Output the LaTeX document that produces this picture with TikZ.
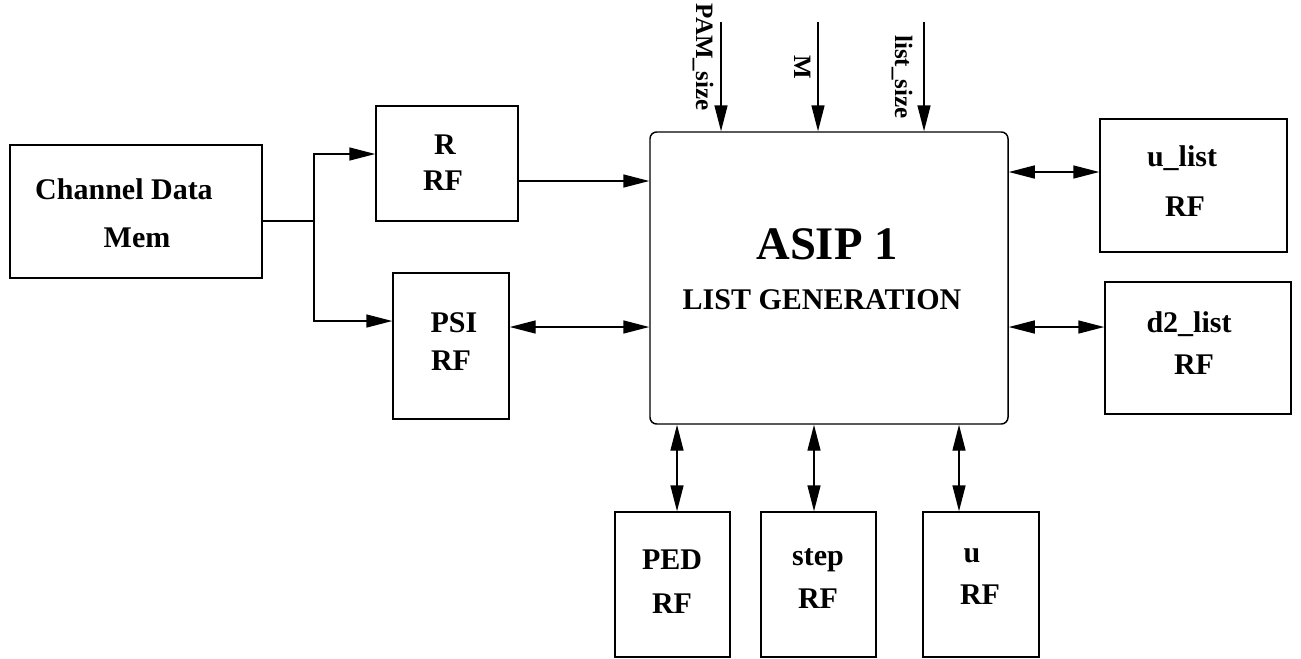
\documentclass[tikz,border=0pt]{standalone}
\usepackage{fontspec}
\setmainfont{Liberation Serif}
\usetikzlibrary{arrows.meta,fit}
\begin{document}
\begin{tikzpicture}[x=0.75pt,y=-0.75pt,
  line width=1.1pt,
  box/.style={draw,inner sep=0pt,line width=1.1pt},
  lbl/.style={anchor=base,inner sep=0pt,font=\fontsize{22.5}{27}\selectfont\bfseries},
  toplbl/.style={anchor=base,inner sep=0pt,rotate=-90,font=\fontsize{18.75}{22}\selectfont\bfseries},
  arr/.style={-{Triangle[length=19.5pt,width=9.75pt]}},
  barr/.style={{Triangle[length=19.5pt,width=9.75pt]}-{Triangle[length=19.5pt,width=9.75pt]}}]
\useasboundingbox (0,0) rectangle (1301,658);
% boxes
\node[box,fit={(10,145)(262,278)}] (cdm) {};
\node[box,fit={(376,106)(518,221)}] (rrf) {};
\node[box,fit={(393,273)(509,419)}] (psi) {};
\node[box,rounded corners=5pt,fit={(650,132)(1008,424)}] (asip) {};
\node[box,fit={(1100,119)(1287,252)}] (ulist) {};
\node[box,fit={(1105,282)(1291,414)}] (d2list) {};
\node[box,fit={(615,512)(730,657)}] (ped) {};
\node[box,fit={(761,512)(876,657)}] (steprf) {};
\node[box,fit={(923,512)(1039,657)}] (urf) {};
% texts
\node[lbl] (t1) at (124,199) {Channel Data};
\node[lbl] (t2) at (137,247) {Mem};
\node[lbl] (t3) at (445,154) {R};
\node[lbl] (t4) at (443,190) {RF};
\node[lbl] (t5) at (454,332) {PSI};
\node[lbl] (t6) at (451,370) {RF};
\node[anchor=base,inner sep=0pt,font=\fontsize{35}{40}\selectfont\bfseries] (t7) at (827,259) {ASIP 1};
\node[lbl] (t8) at (822,309) {LIST GENERATION};
\node[lbl] (t9) at (1182,166) {u\_list};
\node[lbl] (t10) at (1185,216) {RF};
\node[lbl] (t11) at (1189,332) {d2\_list};
\node[lbl] (t12) at (1194,374) {RF};
\node[lbl] (t13) at (672,569) {PED};
\node[lbl] (t14) at (672,613) {RF};
\node[lbl] (t15) at (818,565) {step};
\node[lbl] (t16) at (818,608) {RF};
\node[lbl] (t17) at (972,562) {u};
\node[lbl] (t18) at (980,604) {RF};
\node[toplbl] (t19) at (696,57) {PAM\_size};
\node[toplbl] (t20) at (794,67) {M};
\node[toplbl] (t21) at (895,77) {list\_size};
% connectors
\coordinate (br) at (314,221);
\draw (cdm.east |- br) -- (br);
\draw[arr] (br) |- (rrf.west |- 0,154);
\draw[arr] (br) |- (psi.west |- 0,321);
\draw[arr] (rrf.east |- 0,181) -- (asip.west |- 0,181);
\draw[barr] (psi.east |- 0,327) -- (asip.west |- 0,327);
\draw[barr] (asip.east |- 0,172) -- (ulist.west |- 0,172);
\draw[barr] (asip.east |- 0,327) -- (d2list.west |- 0,327);
\draw[barr] (asip.south -| 677,0) -- (ped.north -| 677,0);
\draw[barr] (asip.south -| 814,0) -- (steprf.north -| 814,0);
\draw[barr] (asip.south -| 959,0) -- (urf.north -| 959,0);
\coordinate (in1) at (721,22);
\coordinate (in2) at (818,22);
\coordinate (in3) at (924,22);
\draw[arr] (in1) -- (asip.north -| in1);
\draw[arr] (in2) -- (asip.north -| in2);
\draw[arr] (in3) -- (asip.north -| in3);
\end{tikzpicture}
\end{document}
